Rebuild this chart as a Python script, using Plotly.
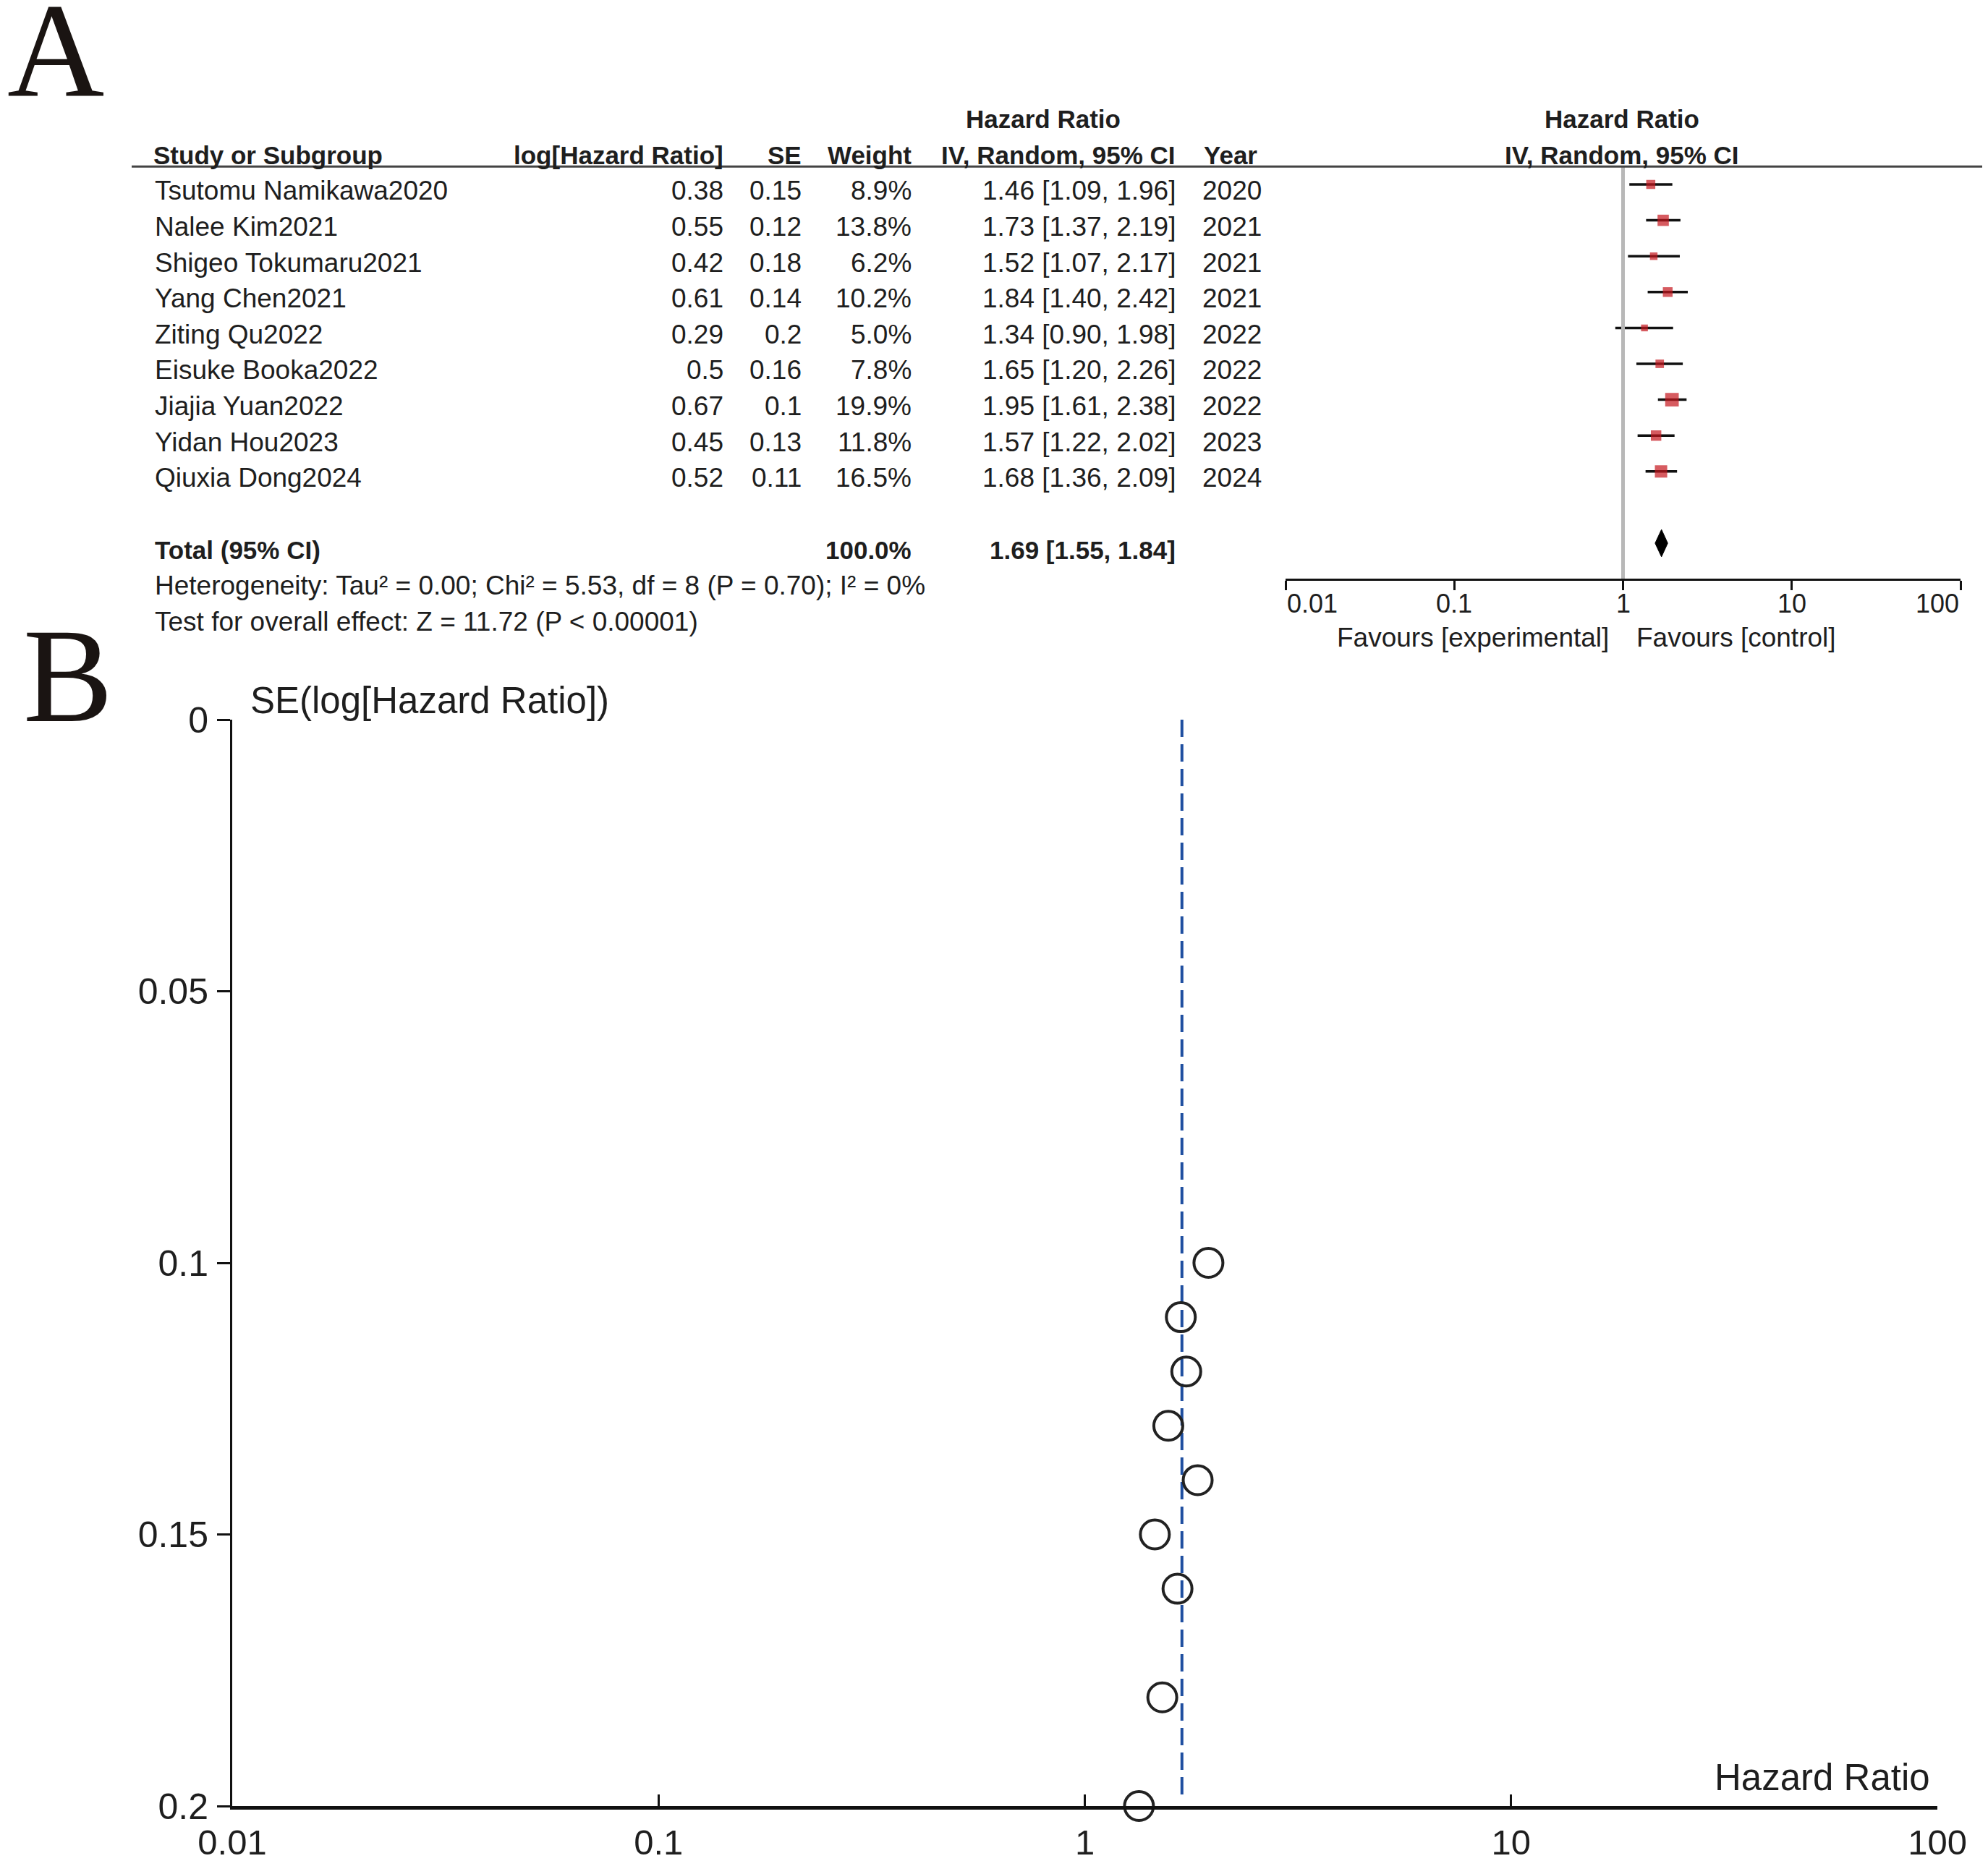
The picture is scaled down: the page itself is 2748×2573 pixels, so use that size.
import math
import plotly.graph_objects as go

# --- canvas ---
W, H = 2748, 2573
OFF = 8  # page body margin; the figure starts 8 px in from the window's corner
FW, FH = W - OFF, H - OFF
FONT = "Arial, Liberation Sans, sans-serif"
SERIF = "Times New Roman, Liberation Serif, serif"
TXT = "#1e1e1e"

# --- data (panel A: forest plot table) ---
studies = ["Tsutomu Namikawa2020", "Nalee Kim2021", "Shigeo Tokumaru2021", "Yang Chen2021",
           "Ziting Qu2022", "Eisuke Booka2022", "Jiajia Yuan2022", "Yidan Hou2023", "Qiuxia Dong2024"]
log_hr = [0.38, 0.55, 0.42, 0.61, 0.29, 0.5, 0.67, 0.45, 0.52]
se = [0.15, 0.12, 0.18, 0.14, 0.2, 0.16, 0.1, 0.13, 0.11]
weight = [8.9, 13.8, 6.2, 10.2, 5.0, 7.8, 19.9, 11.8, 16.5]
hr = [1.46, 1.73, 1.52, 1.84, 1.34, 1.65, 1.95, 1.57, 1.68]
ci_lo = [1.09, 1.37, 1.07, 1.40, 0.90, 1.20, 1.61, 1.22, 1.36]
ci_hi = [1.96, 2.19, 2.17, 2.42, 1.98, 2.26, 2.38, 2.02, 2.09]
years = [2020, 2021, 2021, 2021, 2022, 2022, 2022, 2023, 2024]

total_weight = 100.0
total_hr, total_lo, total_hi = 1.69, 1.55, 1.84
heterogeneity = "Heterogeneity: Tau² = 0.00; Chi² = 5.53, df = 8 (P = 0.70); I² = 0%"
overall = "Test for overall effect: Z = 11.72 (P < 0.00001)"

hr_ticks = [0.01, 0.1, 1, 10, 100]
hr_ticktext = ["0.01", "0.1", "1", "10", "100"]
se_ticks = [0, 0.05, 0.1, 0.15, 0.2]
se_ticktext = ["0", "0.05", "0.1", "0.15", "0.2"]

# --- layout helpers (window pixel -> paper) ---
def px(x):
    return (x - OFF) / FW

def py(y):
    return 1 - (y - OFF) / FH

# rows of panel A: row r sits at pixel 255 + 49.6*r
ROW0, STEP = 255, 49.6
A_TOP, A_BOT = 110, 900
rows = list(range(len(studies)))
ROW_TOTAL, ROW_HET, ROW_TEST = 10, 11, 12
ROW_H1, ROW_H2 = -2, -1
ROW_TICKLAB, ROW_FAV = 11.5, 12.45
FOREST_TOP_ROW, FOREST_AXIS_PX = -0.5, 801

fig = go.Figure()

# forest: CI lines
cx, cy = [], []
for r, lo, hi in zip(rows, ci_lo, ci_hi):
    cx += [lo, hi, None]
    cy += [r, r, None]
fig.add_trace(go.Scatter(x=cx, y=cy, mode="lines", line=dict(color="#111", width=3.5),
                         xaxis="x", yaxis="y", hoverinfo="skip", showlegend=False))

# line of no effect
fig.add_trace(go.Scatter(x=[1, 1], y=[FOREST_TOP_ROW, (FOREST_AXIS_PX - ROW0) / STEP], mode="lines",
                         line=dict(color="#b8b8b8", width=5), xaxis="x", yaxis="y",
                         hoverinfo="skip", showlegend=False))

# forest squares
fig.add_trace(go.Scatter(x=hr, y=rows, mode="markers",
                         marker=dict(symbol="square", color="#c4161c",
                                     size=[4.2 * math.sqrt(w) for w in weight], line=dict(width=0)),
                         xaxis="x", yaxis="y", hoverinfo="skip", showlegend=False, cliponaxis=False))

# pooled diamond
fig.add_trace(go.Scatter(x=[total_lo, total_hr, total_hi, total_hr, total_lo],
                         y=[ROW_TOTAL, ROW_TOTAL - 0.38, ROW_TOTAL, ROW_TOTAL + 0.38, ROW_TOTAL],
                         mode="lines", fill="toself", fillcolor="#000", line=dict(color="#000", width=1),
                         xaxis="x", yaxis="y", hoverinfo="skip", showlegend=False))

# funnel: pooled estimate
fig.add_trace(go.Scatter(x=[total_hr, total_hr], y=[0, 0.199], mode="lines",
                         line=dict(color="#1f4fa0", width=4, dash="24px,10px"),
                         xaxis="x2", yaxis="y2", hoverinfo="skip", showlegend=False))

# funnel: studies
fig.add_trace(go.Scatter(x=hr, y=se, mode="markers",
                         marker=dict(symbol="circle-open", size=40, color="#222", line=dict(width=4)),
                         xaxis="x2", yaxis="y2", hoverinfo="skip", showlegend=False, cliponaxis=False))

# --- table text (panel A) ---
ann = []

def cell(text, xpix, row, anchor="left", size=37, bold=False):
    if bold:
        text = "<b>" + text + "</b>"
        size = min(size, 35)
    ann.append(dict(text=text, x=px(xpix), xref="paper", y=row, yref="y", xanchor=anchor,
                    yanchor="middle", yshift=-9, showarrow=False,
                    font=dict(family=FONT, size=size, color=TXT)))

# headers
cell("Hazard Ratio", 1442, ROW_H1, "center", bold=True)
cell("Hazard Ratio", 2242, ROW_H1, "center", bold=True)
cell("Study or Subgroup", 210, ROW_H2, bold=True)
cell("log[Hazard Ratio]", 1002, ROW_H2, "right", bold=True)
cell("SE", 1110, ROW_H2, "right", bold=True)
cell("Weight", 1262, ROW_H2, "right", bold=True)
cell("IV, Random, 95% CI", 1627, ROW_H2, "right", bold=True)
cell("Year", 1662, ROW_H2, bold=True)
cell("IV, Random, 95% CI", 2242, ROW_H2, "center", bold=True)

for r, s, l, e, w, h, lo, hi, yr in zip(rows, studies, log_hr, se, weight, hr, ci_lo, ci_hi, years):
    cell(s, 212, r)
    cell(str(l), 1002, r, "right")
    cell(str(e), 1110, r, "right")
    cell(f"{w:.1f}%", 1262, r, "right")
    cell(f"{h:.2f} [{lo:.2f}, {hi:.2f}]", 1627, r, "right")
    cell(str(yr), 1660, r)

cell("Total (95% CI)", 212, ROW_TOTAL, bold=True)
cell(f"{total_weight:.1f}%", 1262, ROW_TOTAL, "right", bold=True)
cell(f"{total_hr:.2f} [{total_lo:.2f}, {total_hi:.2f}]", 1627, ROW_TOTAL, "right", bold=True)
cell(heterogeneity, 212, ROW_HET)
cell(overall, 212, ROW_TEST)

# forest axis tick labels
for i, (v, t) in enumerate(zip(hr_ticks, hr_ticktext)):
    anchor = "left" if i == 0 else ("right" if i == len(hr_ticks) - 1 else "center")
    ann.append(dict(text=t, x=math.log10(v), xref="x", y=ROW_TICKLAB, yref="y", xanchor=anchor,
                    yanchor="middle", yshift=-9, showarrow=False,
                    font=dict(family=FONT, size=36, color=TXT)))
ann.append(dict(text="Favours [experimental]", x=0, xref="x", xshift=-18, y=ROW_FAV, yref="y",
                xanchor="right", yanchor="middle", yshift=-9, showarrow=False,
                font=dict(family=FONT, size=37, color=TXT)))
ann.append(dict(text="Favours [control]", x=0, xref="x", xshift=16, y=ROW_FAV, yref="y",
                xanchor="left", yanchor="middle", yshift=-9, showarrow=False,
                font=dict(family=FONT, size=37, color=TXT)))

# funnel axis titles
ann.append(dict(text="SE(log[Hazard Ratio])", x=px(344), xref="paper", y=1, yref="y2 domain",
                xanchor="left", yanchor="middle", yshift=27, showarrow=False,
                font=dict(family=FONT, size=51, color=TXT)))
ann.append(dict(text="Hazard Ratio", x=1, xref="x2 domain", xshift=-8, y=0, yref="y2 domain",
                xanchor="right", yanchor="middle", yshift=40, showarrow=False,
                font=dict(family=FONT, size=51, color=TXT)))

# panel letters (A gets a tight box so it can sit against the top edge)
ann.append(dict(text="A", x=px(9), xref="paper", y=py(70), yref="paper", xanchor="left", yanchor="middle",
                height=136, borderpad=0, showarrow=False,
                font=dict(family=SERIF, size=186, color="#1a1412")))
ann.append(dict(text="B", x=px(30), xref="paper", y=py(934), yref="paper", xanchor="left",
                yanchor="middle", showarrow=False, font=dict(family=SERIF, size=186, color="#1a1412")))

shapes = [dict(type="line", xref="paper", x0=px(182), x1=px(2744), yref="y", y0=FOREST_TOP_ROW,
               y1=FOREST_TOP_ROW, line=dict(color="#444", width=3))]

forest_x = dict(type="log", range=[-2, 2], domain=[px(1777), px(2710)], anchor="free",
                position=py(FOREST_AXIS_PX), tickvals=hr_ticks, showticklabels=False,
                showgrid=False, zeroline=False, tickcolor="#111", tickwidth=3, ticklen=13,
                automargin=False)
funnel_x = dict(type="log", range=[-2, 2], domain=[px(321), px(2678)], anchor="y2",
                tickvals=hr_ticks, ticktext=hr_ticktext, showgrid=False, zeroline=False,
                showline=True, linecolor="#111", linewidth=5, ticks="inside", ticklen=16,
                tickwidth=3, tickcolor="#111", ticklabelstandoff=3, automargin=False,
                tickfont=dict(family=FONT, size=49, color=TXT))
funnel_y = dict(range=[0.2, 0], domain=[py(2497), py(995)], anchor="x2", tickvals=se_ticks,
                ticktext=se_ticktext, showgrid=False, zeroline=False, showline=True,
                linecolor="#111", linewidth=3, ticks="outside", ticklen=18, tickwidth=3,
                tickcolor="#111", ticklabelstandoff=2, automargin=False,
                tickfont=dict(family=FONT, size=50, color=TXT))

fig.update_layout(
    template="none",
    width=FW, height=FH,
    margin=dict(l=0, r=0, t=0, b=0, pad=0, autoexpand=False),
    paper_bgcolor="white", plot_bgcolor="white",
    showlegend=False,
    xaxis=dict(**forest_x, showline=True, linecolor="#111", linewidth=3, ticks="outside"),
    xaxis3=dict(**forest_x, overlaying="x", showline=False, ticks="inside"),
    yaxis=dict(range=[(A_BOT - ROW0) / STEP, (A_TOP - ROW0) / STEP], domain=[py(A_BOT), py(A_TOP)],
               anchor="x", visible=False, automargin=False),
    xaxis2=funnel_x,
    yaxis2=funnel_y,
    yaxis4=dict(range=[0.2, 0], anchor="x2", overlaying="y2", tickvals=se_ticks, showticklabels=False,
                showgrid=False, zeroline=False, showline=False, ticks="inside", ticklen=18,
                tickwidth=3, tickcolor="#111", automargin=False),
    annotations=ann,
    shapes=shapes,
)

fig.write_html("out.html")
